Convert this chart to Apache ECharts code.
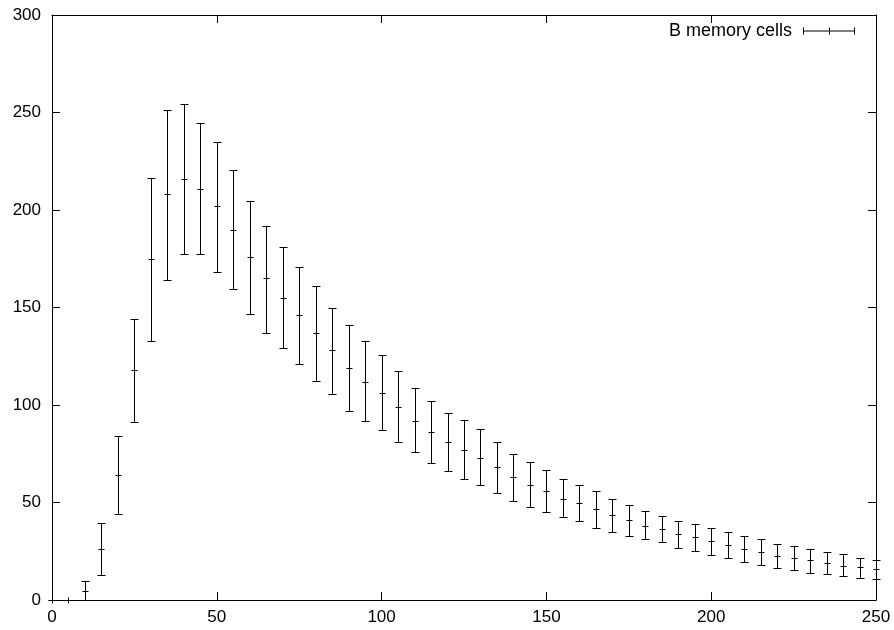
<!DOCTYPE html>
<html>
<head>
<meta charset="utf-8">
<script src="https://cdn.jsdelivr.net/npm/echarts@6/dist/echarts.min.js"></script>
<style>
html, body { margin: 0; padding: 0; background: #fff; }
#main { width: 894px; height: 630px; }
</style>
</head>
<body>
<div id="main"></div>
<script>
var xs = [0, 5, 10, 15, 20, 25, 30, 35, 40, 45, 50, 55, 60, 65, 70, 75, 80, 85, 90, 95, 100,
    105, 110, 115, 120, 125, 130, 135, 140, 145, 150, 155, 160, 165, 170, 175, 180, 185, 190, 195, 200,
    205, 210, 215, 220, 225, 230, 235, 240, 245, 250];
var mean = [0, 0, 4.7, 26, 64, 118, 175, 208, 216, 211, 202, 190, 176, 165, 155, 146, 137, 128, 119, 112, 106,
    99, 92, 86, 81, 77, 73, 68, 63, 59, 56, 52, 50, 46.5, 43.4, 40.8, 38.2, 36.4, 34, 32.1, 30.2,
    28.1, 26.3, 24.7, 22.5, 21.7, 20.3, 19.1, 17.6, 16.8, 15.8];
var low = [0, 0, 0, 12.9, 44.2, 91.1, 133, 164, 177.5, 177.3, 168.3, 159.5, 146.9, 137.1, 129.2, 121.2, 112.5, 105.8, 97.1, 91.6, 87,
    81.2, 75.9, 70.2, 66, 62.2, 58.8, 54.7, 50.9, 47.8, 45.1, 42.5, 40.3, 37.1, 34.8, 32.9, 31.1, 29.5, 26.8, 25.1, 23.2,
    21.3, 19.6, 17.7, 16.3, 15.3, 14.1, 13.2, 12.1, 11.5, 11];
var high = [0, 0, 9.5, 39.3, 84.1, 144.3, 216.5, 251.4, 254.5, 244.7, 234.8, 220.6, 204.7, 191.7, 181.1, 170.8, 160.9, 149.8, 141.2, 132.7, 125.8,
    117.5, 108.7, 102.2, 95.9, 92.1, 87.9, 81, 74.8, 70.7, 66.5, 62.2, 59.1, 55.9, 51.9, 48.7, 45.4, 43, 40.6, 38.9, 37.1,
    34.8, 32.8, 31.2, 28.6, 27.6, 26.1, 24.7, 23.5, 21.7, 20.6];

var seriesName = 'B memory cells';
var font = '"Liberation Sans", Arial, Helvetica, sans-serif';

var rows = [];
for (var i = 0; i < xs.length; i++) {
    rows.push([xs[i], mean[i], low[i], high[i]]);
}

function renderItem(params, api) {
    var x = api.value(0);
    var c = api.coord([x, api.value(1)]);
    var pl = api.coord([x, api.value(2)]);
    var ph = api.coord([x, api.value(3)]);
    var px = Math.round(c[0]) + 0.5;
    var cy = Math.round(c[1]) + 0.5;
    var ly = Math.round(pl[1]) + 0.5;
    var hy = Math.round(ph[1]) + 0.5;
    var cap = 4, arm = 3;
    var st = { stroke: '#000', lineWidth: 1, fill: null };
    return {
        type: 'group',
        children: [
            { type: 'line', shape: { x1: px, y1: ly, x2: px, y2: hy }, style: st },
            { type: 'line', shape: { x1: px - cap, y1: ly, x2: px + cap, y2: ly }, style: st },
            { type: 'line', shape: { x1: px - cap, y1: hy, x2: px + cap, y2: hy }, style: st },
            { type: 'line', shape: { x1: px - arm, y1: cy, x2: px + arm, y2: cy }, style: st },
            { type: 'line', shape: { x1: px, y1: cy - arm, x2: px, y2: cy + arm }, style: st }
        ]
    };
}

var axisCommon = {
    type: 'value',
    axisLine: { show: true, onZero: false, lineStyle: { color: '#000', width: 1 } },
    axisTick: { show: true, inside: true, length: 8, lineStyle: { color: '#000' } },
    splitLine: { show: false }
};

var myChart = echarts.init(document.getElementById('main'));
var option = {
    animation: false,
    backgroundColor: '#fff',
    grid: { left: 52, right: 18, top: 15, bottom: 30 },
    legend: {
        data: [{ name: seriesName, icon: 'path://M0,0h1v7h-1z M0,3h52v1h-52z M51,0h1v7h-1z M26,0h1v7h-1z' }],
        right: 34,
        top: 17,
        align: 'right',
        itemWidth: 52,
        itemHeight: 7,
        itemStyle: { color: '#000' },
        textStyle: { fontFamily: font, fontSize: 18, color: '#000', padding: [0, 6, 0, 0] }
    },
    xAxis: [
        Object.assign({}, axisCommon, {
            min: 0, max: 250, interval: 50, position: 'bottom',
            axisLabel: { margin: 9, fontFamily: font, fontSize: 17, color: '#000' }
        }),
        Object.assign({}, axisCommon, {
            min: 0, max: 250, interval: 50, position: 'top',
            axisLabel: { show: false }
        })
    ],
    yAxis: [
        Object.assign({}, axisCommon, {
            min: 0, max: 300, interval: 50, position: 'left',
            axisLabel: { margin: 11, fontFamily: font, fontSize: 17, color: '#000' }
        }),
        Object.assign({}, axisCommon, {
            min: 0, max: 300, interval: 50, position: 'right',
            axisLabel: { show: false }
        })
    ],
    series: [{
        name: seriesName,
        type: 'custom',
        xAxisIndex: 0,
        yAxisIndex: 0,
        clip: false,
        itemStyle: { color: '#000' },
        encode: { x: 0, y: [1, 2, 3] },
        renderItem: renderItem,
        data: rows
    }]
};
myChart.setOption(option);
</script>
</body>
</html>
